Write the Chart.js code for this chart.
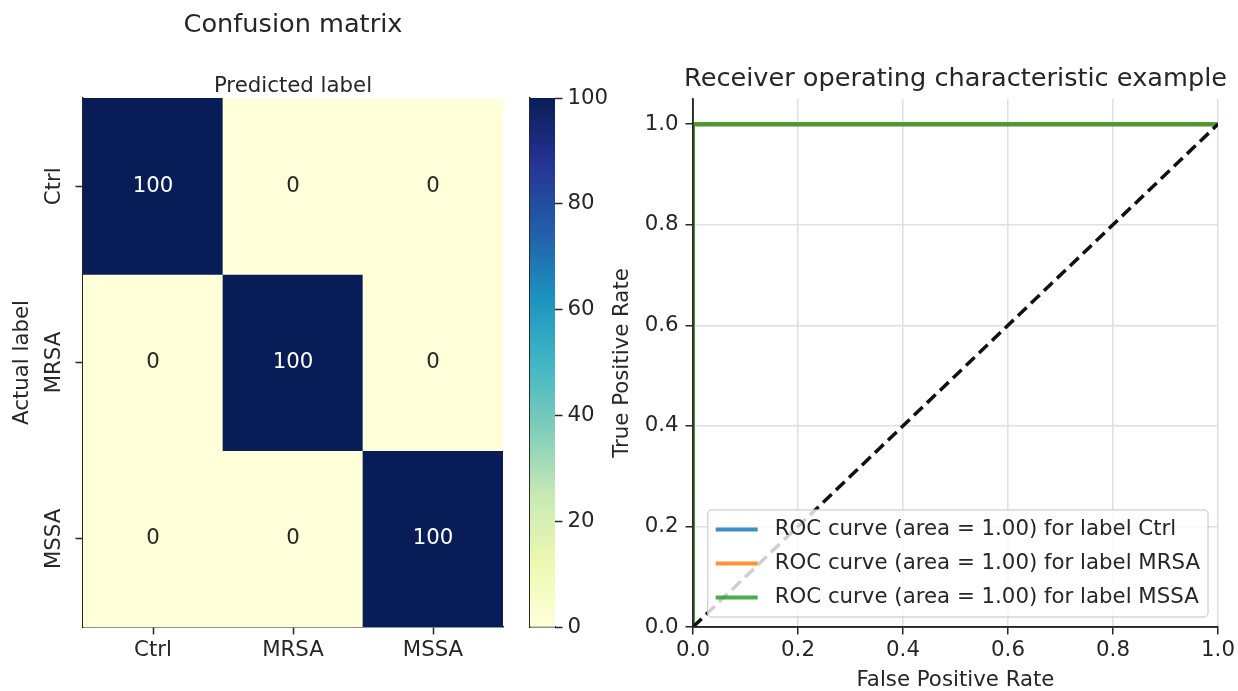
<!DOCTYPE html>
<html>
<head>
<meta charset="utf-8">
<script src="https://cdn.jsdelivr.net/npm/chart.js@4.4.0/dist/chart.umd.min.js"></script>
<style>
  body { margin: 0; background: #fff; width: 1238px; height: 691px; position: relative; overflow: hidden; }
  canvas { position: absolute; top: 0; }
  #heat { left: 0; }
  #cbar { left: 515px; }
  #roc { left: 600px; }
</style>
</head>
<body>
<canvas id="heat" width="515" height="691"></canvas>
<canvas id="cbar" width="110" height="691"></canvas>
<canvas id="roc" width="638" height="691"></canvas>
<script>
const classNames = ['Ctrl', 'MRSA', 'MSSA'];
// rows: actual label, columns: predicted label
const confusion = [
  [100, 0, 0],
  [0, 100, 0],
  [0, 0, 100]
];
const cbarTicks = [0, 20, 40, 60, 80, 100];

// per-class ROC points
const rocFpr = [[0, 0, 1], [0, 0, 1], [0, 0, 1]];
const rocTpr = [[0, 1, 1], [0, 1, 1], [0, 1, 1]];
const chanceFpr = [0, 1];
const chanceTpr = [0, 1];
const rateTicks = [0, 0.2, 0.4, 0.6, 0.8, 1.0];

const INK = '#262626';
const FS = 21.3;      // tick / label size
const TITLE_FS = 25.6;
Chart.defaults.font.family = '"DejaVu Sans"';
Chart.defaults.font.size = FS;
Chart.defaults.color = INK;

// YlGnBu
const ylgnbu = ['#ffffd9', '#edf8b1', '#c7e9b4', '#7fcdbb', '#41b6c4', '#1d91c0', '#225ea8', '#253494', '#081d58'];
const hexRgb = h => [1, 3, 5].map(i => parseInt(h.slice(i, i + 2), 16));
function cmap(t) {
  t = Math.min(1, Math.max(0, t));
  const p = t * (ylgnbu.length - 1);
  const i = Math.min(Math.floor(p), ylgnbu.length - 2);
  const f = p - i;
  const a = hexRgb(ylgnbu[i]), b = hexRgb(ylgnbu[i + 1]);
  const c = a.map((v, k) => Math.round(v + (b[k] - v) * f));
  return `rgb(${c[0]},${c[1]},${c[2]})`;
}
const vmin = 0;
const vmax = Math.max(...confusion.flat());
const norm = v => (v - vmin) / (vmax - vmin);

const tickGrid = { drawOnChartArea: false, tickLength: 7.5, tickWidth: 1.5, tickColor: INK };
const spine = { display: true, color: INK, width: 1.5 };

// title centred over the plot area, allowed to run past its edges
const axesTitle = {
  id: 'axesTitle',
  afterDraw(chart, args, opts) {
    const { ctx, chartArea: a } = chart;
    ctx.save();
    ctx.font = `${TITLE_FS}px "DejaVu Sans"`;
    ctx.fillStyle = INK;
    ctx.textAlign = 'center';
    ctx.textBaseline = 'middle';
    ctx.fillText(opts.text, (a.left + a.right) / 2, a.top - opts.gap);
    ctx.restore();
  }
};

// numbers written in each cell
const cellLabels = {
  id: 'cellLabels',
  afterDatasetsDraw(chart) {
    const { ctx, scales: { x, y } } = chart;
    ctx.save();
    ctx.font = `${FS}px "DejaVu Sans"`;
    ctx.textAlign = 'center';
    ctx.textBaseline = 'middle';
    confusion.forEach((row, r) => row.forEach((v, c) => {
      ctx.fillStyle = norm(v) > 0.5 ? '#ffffff' : INK;
      ctx.fillText(String(v), x.getPixelForValue(c), y.getPixelForValue(r + 0.5));
    }));
    ctx.restore();
  }
};

new Chart(document.getElementById('heat'), {
  type: 'bar',
  data: {
    labels: classNames,
    datasets: confusion.map((row, r) => ({
      label: classNames[r],
      data: row.map(() => [r, r + 1]),
      backgroundColor: row.map(v => cmap(norm(v))),
      borderWidth: 0,
      grouped: false,
      barPercentage: 1,
      categoryPercentage: 1
    }))
  },
  plugins: [cellLabels],
  options: {
    responsive: false,
    animation: false,
    events: [],
    layout: { padding: { left: 0, right: 12, top: 0, bottom: 0 } },
    plugins: {
      legend: { display: false },
      tooltip: { enabled: false },
      title: {
        display: true, text: 'Confusion matrix', fullSize: false, color: INK,
        font: { size: TITLE_FS, weight: 'normal' }, padding: { top: 9.6, bottom: 9.5 }
      }
    },
    scales: {
      x: {
        position: 'bottom',
        afterFit: s => { s.height = 64; },
        grid: { ...tickGrid, offset: false },
        border: spine,
        ticks: { padding: 3 }
      },
      xTop: {
        type: 'category', axis: 'x', position: 'top',
        afterFit: s => { s.height = 48.2; },
        grid: { display: false },
        border: { display: false },
        ticks: { display: false },
        title: { display: true, text: 'Predicted label', padding: { top: 23.4, bottom: 0 } }
      },
      y: {
        type: 'linear', reverse: true, min: 0, max: classNames.length,
        afterBuildTicks: s => { s.ticks = classNames.map((_, i) => ({ value: i + 0.5 })); },
        afterFit: s => { s.width = 83; },
        grid: tickGrid,
        border: spine,
        ticks: {
          minRotation: 90, maxRotation: 90, crossAlign: 'center', padding: -10,
          callback: v => classNames[Math.floor(v)]
        },
        title: { display: true, text: 'Actual label', padding: { top: 9.2, bottom: 0 } }
      }
    }
  }
});

// colour bar
const cbarFill = context => {
  const area = context.chart.chartArea;
  if (!area) return ylgnbu[0];
  const g = context.chart.ctx.createLinearGradient(0, area.bottom, 0, area.top);
  ylgnbu.forEach((c, i) => g.addColorStop(i / (ylgnbu.length - 1), c));
  return g;
};

new Chart(document.getElementById('cbar'), {
  type: 'bar',
  data: {
    labels: [''],
    datasets: [{
      data: [[vmin, vmax]],
      backgroundColor: cbarFill,
      borderWidth: 0,
      barPercentage: 1,
      categoryPercentage: 1,
      yAxisID: 'y'
    }]
  },
  options: {
    responsive: false,
    animation: false,
    events: [],
    layout: { padding: { top: 98, right: 0, left: 0, bottom: 0 } },
    plugins: { legend: { display: false }, tooltip: { enabled: false } },
    scales: {
      x: {
        afterFit: s => { s.height = 64; },
        grid: { display: false },
        ticks: { display: false },
        border: spine
      },
      yLeft: {
        type: 'linear', position: 'left', min: vmin, max: vmax,
        afterFit: s => { s.width = 15; },
        grid: { display: false },
        ticks: { display: false },
        border: spine
      },
      y: {
        type: 'linear', position: 'right', min: vmin, max: vmax,
        afterBuildTicks: s => { s.ticks = cbarTicks.map(v => ({ value: v })); },
        afterFit: s => { s.width = 70; },
        grid: tickGrid,
        border: { display: false },
        ticks: { padding: 5 }
      }
    }
  }
});

// ROC
const rocColors = ['rgba(31,119,180,0.85)', 'rgba(255,127,14,0.85)', 'rgba(44,160,44,0.85)'];
function auc(xs, ys) {
  let a = 0;
  for (let i = 1; i < xs.length; i++) a += (xs[i] - xs[i - 1]) * (ys[i] + ys[i - 1]) / 2;
  return a;
}

// left and bottom spines sit above the curves
const spinesOnTop = {
  id: 'spinesOnTop',
  afterDatasetsDraw(chart) {
    const { ctx, chartArea: a } = chart;
    ctx.save();
    ctx.strokeStyle = INK;
    ctx.lineWidth = 1.5;
    ctx.beginPath();
    ctx.moveTo(a.left, a.top);
    ctx.lineTo(a.left, a.bottom);
    ctx.lineTo(a.right, a.bottom);
    ctx.stroke();
    ctx.restore();
  }
};

const rocLegend = {
  id: 'rocLegend',
  afterDatasetsDraw(chart) {
    const { ctx, chartArea } = chart;
    const items = chart.data.datasets.filter(d => d.label);
    ctx.save();
    ctx.font = `${FS}px "DejaVu Sans"`;
    const textW = Math.max(...items.map(d => ctx.measureText(d.label).width));
    const pad = 8, handle = 42, gap = 17, rowH = 23, spacing = 11;
    const w = pad + handle + gap + textW + pad;
    const h = pad * 2 + items.length * rowH + (items.length - 1) * spacing;
    const x0 = chartArea.right - 10 - w;
    const y0 = chartArea.bottom - 10 - h;
    ctx.beginPath();
    ctx.roundRect(x0, y0, w, h, 4);
    ctx.fillStyle = 'rgba(255,255,255,0.8)';
    ctx.fill();
    ctx.strokeStyle = 'rgba(204,204,204,0.8)';
    ctx.lineWidth = 1.5;
    ctx.stroke();
    items.forEach((d, i) => {
      const cy = y0 + pad + i * (rowH + spacing) + rowH / 2;
      ctx.strokeStyle = d.borderColor;
      ctx.lineWidth = d.borderWidth;
      ctx.beginPath();
      ctx.moveTo(x0 + pad, cy);
      ctx.lineTo(x0 + pad + handle, cy);
      ctx.stroke();
      ctx.fillStyle = INK;
      ctx.textAlign = 'left';
      ctx.textBaseline = 'middle';
      ctx.fillText(d.label, x0 + pad + handle + gap, cy);
    });
    ctx.restore();
  }
};

const rocSets = classNames.map((name, i) => ({
  label: `ROC curve (area = ${auc(rocFpr[i], rocTpr[i]).toFixed(2)}) for label ${name}`,
  data: rocFpr[i].map((x, k) => ({ x, y: rocTpr[i][k] })),
  borderColor: rocColors[i],
  borderWidth: 4,
  order: classNames.length - i
}));
rocSets.push({
  label: '',
  data: chanceFpr.map((x, k) => ({ x, y: chanceTpr[k] })),
  borderColor: '#111111',
  borderWidth: 3.5,
  borderDash: [12, 6],
  order: 0
});

new Chart(document.getElementById('roc'), {
  type: 'line',
  data: { datasets: rocSets.map(d => ({ ...d, pointRadius: 0, fill: false, tension: 0, clip: 0 })) },
  plugins: [spinesOnTop, rocLegend, axesTitle],
  options: {
    responsive: false,
    animation: false,
    events: [],
    layout: { padding: { left: 0, right: 20, top: 99, bottom: 0 } },
    plugins: {
      legend: { display: false },
      tooltip: { enabled: false },
      title: { display: false },
      axesTitle: { text: 'Receiver operating characteristic example', gap: 19.5 }
    },
    scales: {
      x: {
        type: 'linear', min: 0, max: 1,
        afterBuildTicks: s => { s.ticks = rateTicks.map(v => ({ value: v })); },
        afterFit: s => { s.height = 64; },
        grid: { color: '#e0e0e0', lineWidth: 1.5, tickColor: INK, tickWidth: 1.5, tickLength: 7.5 },
        border: spine,
        ticks: { padding: 3, callback: v => v.toFixed(1) },
        title: { display: true, text: 'False Positive Rate', font: { lineHeight: 1.03 }, padding: { top: 0, bottom: 0 } }
      },
      y: {
        type: 'linear', min: 0, max: 1.05,
        afterBuildTicks: s => { s.ticks = rateTicks.map(v => ({ value: v })); },
        afterFit: s => { s.width = 93; },
        grid: { color: '#e0e0e0', lineWidth: 1.5, tickColor: INK, tickWidth: 1.5, tickLength: 7.5 },
        border: spine,
        ticks: { padding: 7, callback: v => v.toFixed(1) },
        title: { display: true, text: 'True Positive Rate', padding: { top: 9.2, bottom: 0 } }
      }
    }
  }
});
</script>
</body>
</html>
